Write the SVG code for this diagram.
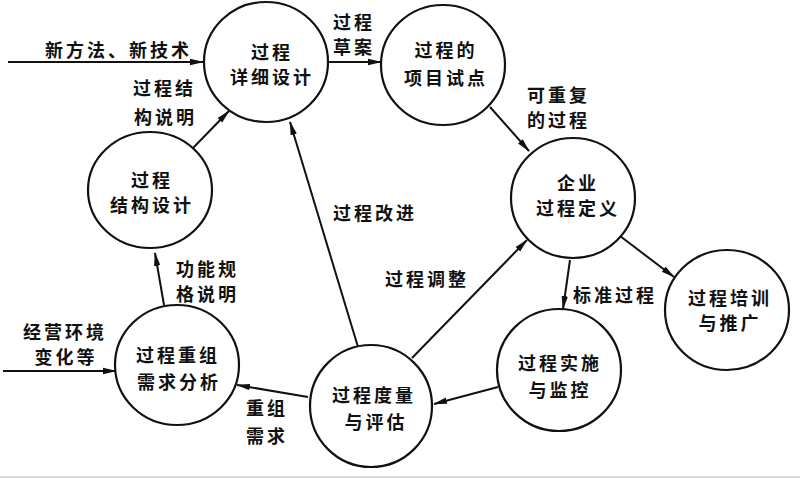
<svg xmlns="http://www.w3.org/2000/svg" width="800" height="479" viewBox="0 0 800 479">
<defs>
<marker id="ah" viewBox="0 0 14 8" refX="13" refY="4" markerWidth="14" markerHeight="8" markerUnits="userSpaceOnUse" orient="auto">
<path d="M0,0.8 L14,4 L0,7.2 Z" fill="#111"/>
</marker>
<style>
.n{fill:#fff;stroke:#111;stroke-width:2.2}
.t{font-family:"Noto Sans CJK SC","Noto Sans",sans-serif;font-size:18px;font-weight:bold;fill:#111;letter-spacing:3px}
.c{text-anchor:middle}
.e{fill:none;stroke:#111;stroke-width:2;marker-end:url(#ah)}
</style>
</defs>
<rect x="0" y="0" width="800" height="479" fill="#fff"/>
<line x1="0" y1="477" x2="800" y2="477" stroke="#ccc" stroke-width="1.5"/>
<g id="edges">
<line class="e" x1="8" y1="62" x2="203" y2="62"/>
<line class="e" x1="328" y1="62" x2="381" y2="62"/>
<line class="e" x1="193" y1="148" x2="229" y2="111"/>
<line class="e" x1="358" y1="347" x2="290" y2="122"/>
<line class="e" x1="490" y1="107" x2="529" y2="151"/>
<line class="e" x1="620" y1="236" x2="674" y2="277"/>
<line class="e" x1="570" y1="260" x2="563" y2="309"/>
<line class="e" x1="412" y1="358" x2="527" y2="240"/>
<line class="e" x1="498" y1="387" x2="434" y2="404"/>
<line class="e" x1="308" y1="397" x2="237" y2="385"/>
<line class="e" x1="164" y1="305" x2="155" y2="253"/>
<line class="e" x1="3" y1="371" x2="116" y2="371"/>
<text class="t" x="45" y="57">新方法、新技术</text>
<text class="t" x="333" y="29">过程</text>
<text class="t" x="333" y="54">草案</text>
<text class="t" x="133" y="95">过程结</text>
<text class="t" x="134" y="124">构说明</text>
<text class="t" x="333" y="220">过程改进</text>
<text class="t" x="527" y="102">可重复</text>
<text class="t" x="527" y="127">的过程</text>
<text class="t" x="573" y="302">标准过程</text>
<text class="t" x="385" y="286">过程调整</text>
<text class="t" x="246" y="415">重组</text>
<text class="t" x="246" y="443">需求</text>
<text class="t" x="176" y="276">功能规</text>
<text class="t" x="176" y="301">格说明</text>
<text class="t c" x="65" y="339">经营环境</text>
<text class="t c" x="66" y="364">变化等</text>
</g>
<g id="n1"><ellipse class="n" cx="266" cy="62" rx="62" ry="60"/><text class="t c" x="272" y="59">过程</text><text class="t c" x="272" y="84">详细设计</text></g>
<g id="n2"><ellipse class="n" cx="443" cy="65" rx="62" ry="60"/><text class="t c" x="446" y="57">过程的</text><text class="t c" x="446" y="85">项目试点</text></g>
<g id="n3"><ellipse class="n" cx="573" cy="198" rx="62" ry="60"/><text class="t c" x="578" y="190">企业</text><text class="t c" x="578" y="215">过程定义</text></g>
<g id="n4"><ellipse class="n" cx="727" cy="310" rx="62" ry="60"/><text class="t c" x="730" y="305">过程培训</text><text class="t c" x="730" y="330">与推广</text></g>
<g id="n5"><ellipse class="n" cx="559" cy="370" rx="62" ry="61"/><text class="t c" x="560" y="370">过程实施</text><text class="t c" x="560" y="397">与监控</text></g>
<g id="n6"><ellipse class="n" cx="371" cy="406" rx="61" ry="61"/><text class="t c" x="374" y="402">过程度量</text><text class="t c" x="376" y="429">与评估</text></g>
<g id="n7"><ellipse class="n" cx="177" cy="365" rx="62" ry="60"/><text class="t c" x="178" y="362">过程重组</text><text class="t c" x="179" y="389">需求分析</text></g>
<g id="n8"><ellipse class="n" cx="150" cy="190" rx="62" ry="58"/><text class="t c" x="152" y="187">过程</text><text class="t c" x="152" y="212">结构设计</text></g>
</svg>
